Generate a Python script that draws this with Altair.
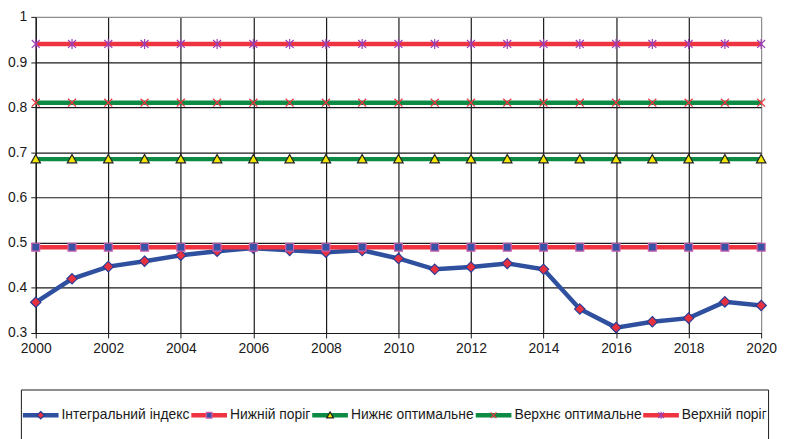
import altair as alt
import pandas as pd

# ---- data ----
years = [2000, 2001, 2002, 2003, 2004, 2005, 2006, 2007, 2008, 2009, 2010,
         2011, 2012, 2013, 2014, 2015, 2016, 2017, 2018, 2019, 2020]
integral_index = [0.368, 0.420, 0.447, 0.459, 0.472, 0.481, 0.488, 0.483, 0.479, 0.483, 0.465,
                  0.441, 0.446, 0.454, 0.441, 0.353, 0.312, 0.325, 0.333, 0.369, 0.361]
series_names = ["Інтегральний індекс", "Нижній поріг", "Нижнє оптимальне",
                "Верхнє оптимальне", "Верхній поріг"]
levels = {"Нижній поріг": 0.49, "Нижнє оптимальне": 0.685,
          "Верхнє оптимальне": 0.81, "Верхній поріг": 0.94}
x_ticks = [2000, 2002, 2004, 2006, 2008, 2010, 2012, 2014, 2016, 2018, 2020]
y_ticks = [0.3, 0.4, 0.5, 0.6, 0.7, 0.8, 0.9, 1.0]

# ---- styles ----
line_colors = ["#2f4f9f", "#ee3440", "#0d8a44", "#0d8a44", "#ee3440"]
marker_fill = ["#e8313f", "#3953a4", "#f3e600", "transparent", "transparent"]
marker_stroke = ["#2a3d96", "#cc5fae", "#222222", "#ee3440", "#9b3fb5"]
# leading move-to points give every marker the same horizontal extent as the
# legend line symbol, so both legends lay their entries out identically
EXT = "M-1,0M1,0"
marker_paths = [
    EXT + "M0,-0.21L0.21,0L0,0.21L-0.21,0Z",
    EXT + "M-0.16,-0.16H0.16V0.16H-0.16Z",
    EXT + "M0,-0.19L0.19,0.15H-0.19Z",
    EXT + "M-0.16,-0.16L0.16,0.16M-0.16,0.16L0.16,-0.16",
    EXT + "M-0.16,-0.16L0.16,0.16M-0.16,0.16L0.16,-0.16M0,-0.2V0.2",
]
# thick legend line built from parallel thin strokes (same stroke width as markers)
legend_line_path = "M-1,-0.09H1M-1,-0.045H1M-1,0H1M-1,0.045H1M-1,0.09H1"
FONT = "Liberation Sans"

rows = []
for yr, v in zip(years, integral_index):
    rows.append({"year": yr, "value": v, "series": series_names[0]})
for name in series_names[1:]:
    for yr in years:
        rows.append({"year": yr, "value": levels[name], "series": name})
df = pd.DataFrame(rows)
df["series2"] = df["series"]

X = alt.X("year:Q",
          scale=alt.Scale(domain=[2000, 2020], nice=False, zero=False),
          axis=alt.Axis(values=x_ticks, format="d", title=None,
                        labelFont=FONT, labelFontSize=14, labelColor="#1a1a1a",
                        labelPadding=4, labelFlush=False,
                        tickColor="#1a1a1a", tickSize=5, domainColor="#1a1a1a",
                        domainWidth=1.2,
                        gridColor={"condition": {"test": "datum.value >= 2020", "value": "#8c8c8c"},
                                   "value": "#1a1a1a"},
                        gridWidth=1.2))
Y = alt.Y("value:Q",
          scale=alt.Scale(domain=[0.3, 1.0], nice=False, zero=False),
          axis=alt.Axis(values=y_ticks, format="~g", title=None,
                        labelFont=FONT, labelFontSize=14, labelColor="#1a1a1a",
                        labelPadding=4, labelFlush=False,
                        tickColor="#1a1a1a", tickSize=5, domainColor="#1a1a1a",
                        domainWidth=1.2,
                        gridColor={"condition": {"test": "datum.value >= 0.999", "value": "#8c8c8c"},
                                   "value": "#1a1a1a"},
                        gridWidth=1.2))

LX, LY = -15, 376
common = dict(orient="none", legendX=LX, legendY=LY, direction="horizontal",
              columns=5, symbolSize=1296, symbolStrokeWidth=1.2, clipHeight=50,
              labelFont=FONT, labelFontSize=14, labelOffset=2, columnPadding=0,
              padding=1, title=None, labelLimit=0, values=series_names)
line_legend = alt.Legend(symbolType=legend_line_path, labelColor="#1a1a1a",
                         strokeColor="#1a1a1a", **common)
marker_legend = alt.Legend(labelOpacity=0, **common)

# one extra unused domain entry keeps the two legends apart (legend values hide it)
color_scale = alt.Scale(domain=series_names + ["—"], range=line_colors + ["#ffffff"])
fill_scale = alt.Scale(domain=series_names, range=marker_fill)
stroke_scale = alt.Scale(domain=series_names, range=marker_stroke)
shape_scale = alt.Scale(domain=series_names, range=marker_paths)

base = alt.Chart(df)
layers = []
for name in series_names:
    sub = base.transform_filter(alt.datum.series == name)
    layers.append(
        sub.mark_line(strokeWidth=4.5).encode(
            x=X, y=Y,
            color=alt.Color("series:N", scale=color_scale, legend=line_legend)))
    layers.append(
        sub.mark_point(filled=True, opacity=1, size=2500, strokeWidth=1.2).encode(
            x=X, y=Y,
            fill=alt.Fill("series2:N", scale=fill_scale, legend=marker_legend),
            stroke=alt.Stroke("series2:N", scale=stroke_scale, legend=marker_legend),
            shape=alt.Shape("series2:N", scale=shape_scale, legend=marker_legend)))

chart = alt.layer(*layers).properties(
    width=732, height=319,
    autosize=alt.AutoSizeParams(type="none"),
    padding={"left": 28, "top": 7, "right": 16, "bottom": 105},
    background="white",
).configure_view(stroke="transparent")

chart.save("out.html", embed_options={"renderer": "svg", "actions": False})
